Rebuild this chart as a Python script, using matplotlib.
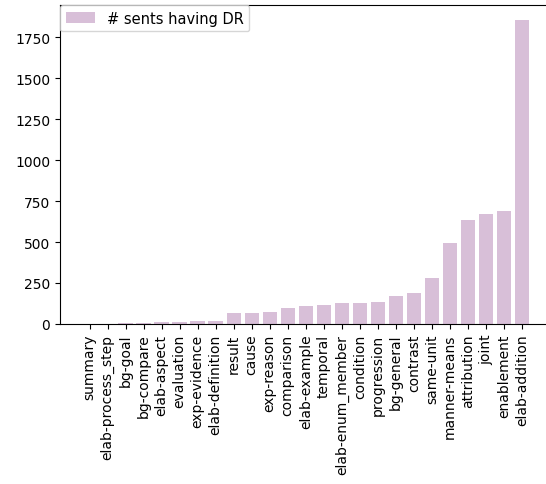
import matplotlib
matplotlib.use('Agg')
import matplotlib.pyplot as plt

relations = ['summary', 'elab-process_step', 'bg-goal', 'bg-compare', 'elab-aspect',
             'evaluation', 'exp-evidence', 'elab-definition', 'result', 'cause',
             'exp-reason', 'comparison', 'elab-example', 'temporal', 'elab-enum_member',
             'condition', 'progression', 'bg-general', 'contrast', 'same-unit',
             'manner-means', 'attribution', 'joint', 'enablement', 'elab-addition']
counts = [1, 2, 3, 4, 10, 11, 20, 21, 64, 65, 72, 97, 108, 118, 126,
          127, 136, 173, 189, 279, 492, 636, 670, 691, 1855]

fig = plt.figure(figsize=(5.46, 4.85), dpi=100)
ax = fig.add_axes([0.11, 0.33, 0.9, 0.658])

ax.bar(relations, counts, color='thistle', label='# sents having DR')
ax.tick_params(axis='x', rotation=90)
ax.legend(loc='upper left', bbox_to_anchor=(0, 1.0), borderaxespad=0.0,
          fontsize=10.5)

fig.savefig('out.png', dpi=100)
